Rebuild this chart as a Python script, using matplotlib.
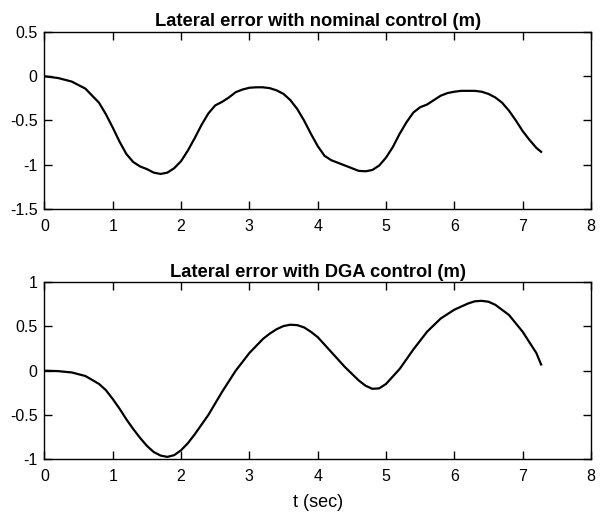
import matplotlib
matplotlib.use('Agg')
import matplotlib.pyplot as plt

# Time samples (sec) and lateral error (m)
t_nom = [0, 0.2, 0.4, 0.6, 0.8, 0.9, 1.0, 1.1, 1.2, 1.3, 1.4, 1.5, 1.6, 1.7, 1.8, 1.9,
         2.0, 2.1, 2.2, 2.3, 2.4, 2.5, 2.6, 2.7, 2.8, 2.9, 3.0, 3.1, 3.2, 3.3, 3.4,
         3.5, 3.6, 3.7, 3.8, 3.9, 4.0, 4.1, 4.2, 4.3, 4.4, 4.5, 4.6, 4.7, 4.8, 4.9,
         5.0, 5.1, 5.2, 5.3, 5.4, 5.5, 5.6, 5.7, 5.8, 5.9, 6.0, 6.1, 6.2, 6.3, 6.4,
         6.5, 6.6, 6.7, 6.8, 6.9, 7.0, 7.1, 7.2, 7.27]
e_nom = [0, -0.02, -0.06, -0.14, -0.3, -0.43, -0.58, -0.74, -0.88, -0.97, -1.02, -1.05,
         -1.09, -1.105, -1.09, -1.04, -0.96, -0.84, -0.70, -0.55, -0.42, -0.33,
         -0.29, -0.24, -0.18, -0.15, -0.13, -0.125, -0.125, -0.135, -0.16, -0.2,
         -0.27, -0.37, -0.5, -0.65, -0.79, -0.9, -0.95, -0.98, -1.01, -1.04, -1.07,
         -1.075, -1.06, -1.01, -0.92, -0.8, -0.65, -0.52, -0.41, -0.35, -0.32,
         -0.27, -0.22, -0.19, -0.175, -0.165, -0.165, -0.165, -0.175, -0.2, -0.24,
         -0.3, -0.39, -0.5, -0.62, -0.72, -0.81, -0.855]

t_dga = [0, 0.2, 0.4, 0.6, 0.8, 0.9, 1.0, 1.1, 1.2, 1.3, 1.4, 1.5, 1.6, 1.7, 1.8,
         1.9, 2.0, 2.1, 2.2, 2.4, 2.6, 2.8, 3.0, 3.2, 3.3, 3.4, 3.5, 3.6, 3.7, 3.8,
         3.9, 4.0, 4.2, 4.4, 4.6, 4.7, 4.8, 4.9, 5.0, 5.2, 5.4, 5.6, 5.8, 6.0, 6.2,
         6.3, 6.4, 6.5, 6.6, 6.8, 7.0, 7.2, 7.27]
e_dga = [0, -0.005, -0.02, -0.06, -0.15, -0.22, -0.32, -0.43, -0.55, -0.66, -0.76,
         -0.85, -0.92, -0.96, -0.975, -0.955, -0.9, -0.82, -0.72, -0.5, -0.24, 0.0,
         0.2, 0.36, 0.42, 0.47, 0.505, 0.52, 0.515, 0.49, 0.44, 0.38, 0.21, 0.04,
         -0.11, -0.17, -0.205, -0.2, -0.15, 0.02, 0.24, 0.44, 0.59, 0.69, 0.76,
         0.785, 0.79, 0.78, 0.745, 0.63, 0.44, 0.2, 0.07]

plt.rcParams['font.family'] = ['Liberation Sans', 'DejaVu Sans']
plt.rcParams['font.size'] = 11.5

fig = plt.figure(figsize=(6, 5.17), dpi=100)
# two equal-height panels, like MATLAB subplot(2,1,k)
ax1 = fig.add_axes([0.074, 0.596, 0.911, 0.342])
ax2 = fig.add_axes([0.074, 0.112, 0.911, 0.342])

def style(ax):
    ax.set_xlim(0, 8)
    ax.set_xticks(range(0, 9))
    ax.tick_params(direction='in', top=True, right=True, length=6, width=1,
                   labelsize=11.5)
    ax.tick_params(axis='x', pad=7)
    ax.tick_params(axis='y', pad=5)
    for s in ax.spines.values():
        s.set_linewidth(1)

# top panel: nominal control
ax1.plot(t_nom, e_nom, color='black', linewidth=1.6)
style(ax1)
ax1.set_ylim(-1.5, 0.5)
ax1.set_yticks([-1.5, -1, -0.5, 0, 0.5])
ax1.set_yticklabels(['-1.5', '-1', '-0.5', '0', '0.5'])
ax1.set_title('Lateral error with nominal control (m)', fontweight='bold',
              fontsize=13.2, pad=4)

# bottom panel: DGA control
ax2.plot(t_dga, e_dga, color='black', linewidth=1.6)
style(ax2)
ax2.set_ylim(-1, 1)
ax2.set_yticks([-1, -0.5, 0, 0.5, 1])
ax2.set_yticklabels(['-1', '-0.5', '0', '0.5', '1'])
ax2.set_title('Lateral error with DGA control (m)', fontweight='bold',
              fontsize=13.2, pad=4)
ax2.set_xlabel('t (sec)', fontsize=13, labelpad=7)

fig.savefig('out.png', dpi=100)
